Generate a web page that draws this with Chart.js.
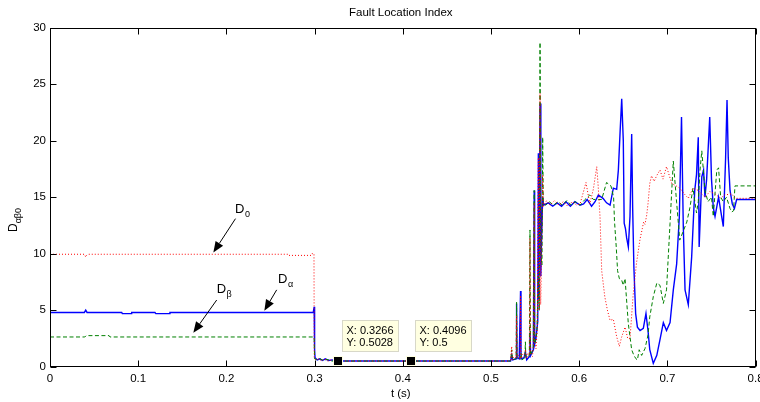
<!DOCTYPE html>
<html>
<head>
<meta charset="utf-8">
<script src="https://cdn.jsdelivr.net/npm/chart.js@4.4.0/dist/chart.umd.min.js"></script>
<style>
  html, body { margin: 0; padding: 0; background: #fff; }
  canvas { display: block; }
</style>
</head>
<body>
<canvas id="chart" width="760" height="402"></canvas>
<script>
// time (s) / index pairs for the three fault location indices
const d0Points = [
  [0, 9.95], [0.039, 9.95], [0.0405, 9.7], [0.0415, 9.85], [0.043, 9.95], [0.27, 9.95], [0.2705, 9.85],
  [0.2965, 9.85], [0.297, 10.0], [0.2993, 10.0], [0.2996, 0.8], [0.302, 0.6], [0.305, 0.7], [0.308, 0.5],
  [0.311, 0.7], [0.315, 0.5], [0.319, 0.6], [0.323, 0.5], [0.52, 0.5],
  [0.5222, 0.6], [0.5235, 1.8], [0.524, 0.6], [0.526, 0.9], [0.5285, 0.8], [0.529, 4.5], [0.5295, 0.8],
  [0.531, 1.0], [0.533, 0.7], [0.5335, 6.3], [0.534, 0.7], [0.536, 1.1], [0.538, 0.9], [0.539, 1.5],
  [0.5405, 0.7], [0.542, 1.2], [0.5435, 1.0], [0.5442, 11.4], [0.5448, 1.2], [0.547, 0.9], [0.548, 1.8],
  [0.549, 14.5], [0.5495, 2.2], [0.551, 1.6], [0.5525, 3.5], [0.5537, 18.5], [0.5545, 5.0], [0.5556, 24.2],
  [0.5563, 5.5], [0.5572, 9.0], [0.5586, 17.0], [0.5596, 14.2],
  [0.563, 14.7], [0.567, 14.3], [0.572, 14.7], [0.577, 14.3], [0.582, 14.6], [0.587, 14.2], [0.592, 14.6],
  [0.597, 14.3], [0.601, 14.4], [0.6077, 16.3], [0.612, 14.4], [0.616, 15.7], [0.6199, 17.7], [0.6215, 16.0],
  [0.6236, 13.3], [0.6255, 8.5], [0.629, 6.2], [0.632, 5.0], [0.635, 4.1], [0.6387, 4.2], [0.6425, 2.65],
  [0.6455, 1.8], [0.648, 2.6], [0.652, 3.5], [0.655, 2.5], [0.6576, 2.5], [0.661, 6.2], [0.665, 9.2],
  [0.669, 11.3], [0.6715, 12.2], [0.673, 12.8], [0.6746, 12.6], [0.6765, 13.4], [0.678, 14.4], [0.68, 16.2],
  [0.682, 16.9], [0.685, 16.4], [0.6878, 16.9], [0.6916, 17.4], [0.695, 16.6], [0.699, 17.7], [0.705, 16.2],
  [0.71, 16.0], [0.714, 15.8], [0.719, 15.3], [0.7237, 14.9], [0.729, 15.8], [0.735, 15.6], [0.7426, 15.0],
  [0.748, 15.5], [0.754, 15.3], [0.76, 14.9], [0.765, 15.2], [0.773, 15.3], [0.7766, 14.9], [0.8, 14.9]
];

const dAlphaPoints = [
  [0, 4.8], [0.039, 4.8], [0.0405, 5.0], [0.042, 4.8], [0.0813, 4.8], [0.082, 4.7], [0.092, 4.7],
  [0.0926, 4.8], [0.119, 4.8], [0.12, 4.7], [0.135, 4.7], [0.136, 4.8], [0.2985, 4.8], [0.2995, 5.3],
  [0.3, 1.5], [0.3005, 0.8], [0.303, 0.6], [0.306, 0.7], [0.309, 0.55], [0.312, 0.7], [0.316, 0.55],
  [0.32, 0.6], [0.324, 0.5], [0.52, 0.5],
  [0.5222, 0.5], [0.5235, 1.0], [0.5245, 0.6], [0.5285, 0.7], [0.529, 5.6], [0.5295, 0.8], [0.532, 0.7],
  [0.5335, 6.7], [0.534, 0.7], [0.5375, 0.8], [0.539, 1.3], [0.5405, 0.6], [0.5435, 0.9], [0.5442, 3.0],
  [0.545, 1.0], [0.548, 1.5], [0.549, 15.6], [0.5495, 2.0], [0.551, 2.5], [0.553, 4.0], [0.5537, 18.9],
  [0.5543, 6.0], [0.5556, 23.3], [0.5565, 8.0], [0.5575, 12.0], [0.5586, 15.0], [0.5596, 14.3],
  [0.565, 14.5], [0.57, 14.2], [0.575, 14.5], [0.58, 14.2], [0.585, 14.6], [0.59, 14.2], [0.595, 14.6],
  [0.601, 14.3], [0.605, 14.4], [0.609, 14.8], [0.614, 14.2], [0.618, 14.6], [0.6217, 15.2], [0.627, 14.9],
  [0.631, 14.5], [0.635, 14.3], [0.6387, 15.8], [0.6425, 15.7], [0.6444, 17.4], [0.6465, 21.0], [0.6482, 23.7],
  [0.65, 20.0], [0.651, 12.7], [0.6525, 12.2], [0.6538, 11.4], [0.6557, 10.6], [0.6576, 13.3], [0.6595, 20.6],
  [0.6606, 14.1], [0.662, 8.8], [0.664, 4.7], [0.666, 3.5], [0.669, 3.2], [0.6727, 3.4], [0.6757, 4.7],
  [0.678, 3.2], [0.68, 1.5], [0.684, 0.3], [0.688, 1.0], [0.6916, 2.4], [0.6954, 3.9], [0.699, 3.2],
  [0.703, 3.9], [0.7067, 6.8], [0.7105, 9.1], [0.7135, 13.2], [0.716, 22.1], [0.718, 12.5], [0.72, 6.8],
  [0.7237, 5.5], [0.7275, 9.7], [0.731, 15.6], [0.733, 17.0], [0.735, 20.3], [0.736, 10.6], [0.739, 16.8],
  [0.741, 17.4], [0.7426, 15.0], [0.7445, 16.6], [0.748, 22.1], [0.75, 16.6], [0.752, 14.1], [0.754, 13.3],
  [0.758, 15.0], [0.7615, 13.3], [0.7634, 12.4], [0.766, 18.5], [0.7676, 23.6], [0.769, 18.5], [0.771, 15.6],
  [0.7736, 14.4], [0.776, 14.0], [0.7785, 14.8], [0.8, 14.8]
];

const dBetaPoints = [
  [0, 2.63], [0.0395, 2.63], [0.041, 2.75], [0.067, 2.75], [0.068, 2.63], [0.2995, 2.63], [0.3, 0.7],
  [0.303, 0.6], [0.306, 0.7], [0.31, 0.55], [0.314, 0.65], [0.319, 0.5], [0.52, 0.5],
  [0.5222, 0.5], [0.5235, 1.5], [0.5245, 0.6], [0.5285, 0.7], [0.529, 5.7], [0.5295, 0.8], [0.533, 0.7],
  [0.534, 1.2], [0.535, 0.6], [0.5385, 0.8], [0.539, 2.2], [0.5395, 0.8], [0.5435, 1.0], [0.5442, 12.1],
  [0.5448, 1.0], [0.548, 1.6], [0.549, 15.6], [0.5495, 2.0], [0.552, 3.0], [0.5537, 8.0], [0.5548, 5.0],
  [0.5556, 28.7], [0.5565, 10.0], [0.5578, 9.0], [0.5586, 20.3], [0.5593, 14.5],
  [0.562, 14.3], [0.566, 14.6], [0.571, 14.3], [0.576, 14.6], [0.581, 14.3], [0.586, 14.7], [0.591, 14.3],
  [0.596, 14.6], [0.601, 14.3], [0.6066, 14.8], [0.612, 15.2], [0.616, 14.8], [0.6217, 14.8], [0.6255, 14.8],
  [0.631, 16.3], [0.636, 16.0], [0.639, 15.0], [0.64, 12.9], [0.642, 10.6], [0.6435, 8.5], [0.6455, 7.8],
  [0.648, 7.7], [0.65, 7.2], [0.652, 7.8], [0.654, 5.6], [0.6557, 3.8], [0.6576, 2.65], [0.6595, 1.5],
  [0.662, 1.0], [0.6644, 0.7], [0.666, 0.6], [0.668, 1.5], [0.6708, 1.0], [0.6746, 1.6], [0.678, 2.8],
  [0.68, 4.4], [0.684, 6.2], [0.688, 7.4], [0.6916, 7.2], [0.6954, 5.6], [0.699, 6.8], [0.703, 12.7],
  [0.7067, 18.2], [0.7105, 14.5], [0.714, 11.2], [0.718, 12.0], [0.722, 12.8], [0.7256, 14.1], [0.729, 15.8],
  [0.733, 13.6], [0.735, 14.6], [0.737, 17.4], [0.739, 19.1], [0.7426, 15.6], [0.746, 14.6], [0.75, 15.0],
  [0.752, 13.3], [0.756, 17.4], [0.758, 17.6], [0.7604, 15.0], [0.7634, 14.6], [0.767, 15.0], [0.771, 14.0],
  [0.773, 13.7], [0.775, 13.8], [0.7766, 16.0], [0.8, 16.0]
];

const xTicks = [0, 0.1, 0.2, 0.3, 0.4, 0.5, 0.6, 0.7, 0.8];
const xTickLabels = ['0', '0.1', '0.2', '0.3', '0.4', '0.5', '0.6', '0.7', '0.8'];
const yTicks = [0, 5, 10, 15, 20, 25, 30];

// data cursors: [t, value]
const dataTips = [[0.3266, 0.5028], [0.4096, 0.5]];

// arrow labels: subscript, label anchor (t, value), arrow tail, arrow tip
const arrowLabels = [
  { sub: '0', at: [0.2098, 13.6], from: [0.2103, 13.1], to: [0.1852, 10.1] },
  { sub: 'β', at: [0.189, 6.55], from: [0.189, 5.9], to: [0.1625, 3.0] },
  { sub: 'α', at: [0.2585, 7.4], from: [0.257, 6.8], to: [0.243, 4.95] }
];

const FONT = '"Liberation Sans", Arial, Helvetica, sans-serif';
Chart.defaults.font.family = FONT;

const toXY = pts => pts.map(p => ({ x: p[0], y: p[1] }));

// inward ticks on all four sides plus the closed box, like a MATLAB axes
const axesBox = {
  id: 'axesBox',
  afterDraw(chart) {
    const { ctx, chartArea: a, scales: { x, y } } = chart;
    const L = Math.round(a.left) + 0.5, R = Math.round(a.right) - 0.5;
    const T = Math.round(a.top) + 0.5, B = Math.round(a.bottom) - 0.5;
    ctx.save();
    ctx.strokeStyle = '#000';
    ctx.lineWidth = 1;
    ctx.strokeRect(L, T, R - L, B - T);
    ctx.beginPath();
    xTicks.forEach(v => {
      const px = Math.round(x.getPixelForValue(v)) + 0.5;
      ctx.moveTo(px, B); ctx.lineTo(px, B - 6);
      ctx.moveTo(px, T); ctx.lineTo(px, T + 6);
    });
    yTicks.forEach(v => {
      const py = Math.round(y.getPixelForValue(v)) + 0.5;
      ctx.moveTo(L, py); ctx.lineTo(L + 6, py);
      ctx.moveTo(R, py); ctx.lineTo(R - 6, py);
    });
    ctx.stroke();

    // title and axis labels
    ctx.fillStyle = '#000';
    ctx.font = '11.5px ' + FONT;
    ctx.textAlign = 'center';
    ctx.textBaseline = 'middle';
    ctx.fillText('Fault Location Index', (a.left + a.right) / 2 - 2, 13);
    ctx.fillText('t (s)', (a.left + a.right) / 2 - 2, 394);

    ctx.save();
    ctx.translate(17, 232);
    ctx.rotate(-Math.PI / 2);
    ctx.textAlign = 'left';
    ctx.textBaseline = 'alphabetic';
    ctx.font = '12px ' + FONT;
    ctx.fillText('D', 0, 0);
    const dw = ctx.measureText('D').width;
    ctx.font = '9px ' + FONT;
    ctx.fillText('αβ0', dw, 4);
    ctx.restore();

    // arrows with subscripted labels
    arrowLabels.forEach(lb => {
      const fx = x.getPixelForValue(lb.from[0]), fy = y.getPixelForValue(lb.from[1]);
      const tx = x.getPixelForValue(lb.to[0]), ty = y.getPixelForValue(lb.to[1]);
      const ang = Math.atan2(ty - fy, tx - fx);
      const hl = 11, hw = 4.5;
      const bx = tx - hl * Math.cos(ang), by = ty - hl * Math.sin(ang);
      ctx.beginPath();
      ctx.moveTo(fx, fy); ctx.lineTo(bx, by);
      ctx.stroke();
      ctx.beginPath();
      ctx.moveTo(tx, ty);
      ctx.lineTo(bx + hw * Math.sin(ang), by - hw * Math.cos(ang));
      ctx.lineTo(bx - hw * Math.sin(ang), by + hw * Math.cos(ang));
      ctx.closePath();
      ctx.fill();

      const lx = x.getPixelForValue(lb.at[0]), ly = y.getPixelForValue(lb.at[1]);
      ctx.textAlign = 'left';
      ctx.textBaseline = 'alphabetic';
      ctx.font = '13px ' + FONT;
      ctx.fillText('D', lx, ly);
      const w = ctx.measureText('D').width;
      ctx.font = '9px ' + FONT;
      ctx.fillText(lb.sub, lx + w + 0.5, ly + 4);
    });

    // data cursor markers and their readouts
    dataTips.forEach(([tv, dv]) => {
      const mx = x.getPixelForValue(tv), my = y.getPixelForValue(dv);
      ctx.fillStyle = '#ffffe1';
      ctx.fillRect(Math.round(mx) - 5, Math.round(my) - 5, 10, 10);
      ctx.fillStyle = '#000';
      ctx.fillRect(Math.round(mx) - 4, Math.round(my) - 4, 8, 8);

      const lines = ['X: ' + tv, 'Y: ' + dv];
      ctx.font = '11px ' + FONT;
      const bw = Math.ceil(Math.max(...lines.map(s => ctx.measureText(s).width))) + 9;
      const bh = 32;
      const bl = Math.round(mx) + 4, bb = Math.round(my) - 9;
      ctx.fillStyle = '#ffffe1';
      ctx.fillRect(bl, bb - bh, bw, bh);
      ctx.strokeStyle = '#d8d8c8';
      ctx.strokeRect(bl + 0.5, bb - bh + 0.5, bw - 1, bh - 1);
      ctx.fillStyle = '#000';
      ctx.textAlign = 'left';
      ctx.textBaseline = 'middle';
      ctx.fillText(lines[0], bl + 4.5, bb - bh + 11);
      ctx.fillText(lines[1], bl + 4.5, bb - bh + 23);
    });
    ctx.restore();
  }
};

const ctx = document.getElementById('chart');
const chart = new Chart(ctx, {
  type: 'line',
  data: {
    datasets: [
      { label: 'D0', data: toXY(d0Points), borderColor: '#ff0000', borderWidth: 1, borderDash: [1, 2] },
      { label: 'Dβ', data: toXY(dBetaPoints), borderColor: '#008000', borderWidth: 1, borderDash: [4, 2.5] },
      { label: 'Dα', data: toXY(dAlphaPoints), borderColor: '#0000ff', borderWidth: 1.4 }
    ]
  },
  options: {
    responsive: false,
    animation: false,
    elements: {
      point: { radius: 0, hoverRadius: 0 },
      line: { tension: 0, fill: false }
    },
    layout: { padding: { left: 0, right: 4.4, top: 27.7, bottom: 0 } },
    plugins: {
      legend: { display: false },
      tooltip: { enabled: false },
      title: { display: false }
    },
    scales: {
      x: {
        type: 'linear',
        min: 0,
        max: 0.8,
        grid: { display: false, drawTicks: false },
        border: { display: false },
        afterBuildTicks: s => { s.ticks = xTicks.map(v => ({ value: v })); },
        afterFit: s => { s.height = 35.3; s.paddingLeft = 0; s.paddingRight = 0; },
        ticks: {
          callback: (v, i) => xTickLabels[i],
          color: '#000',
          font: { size: 11.5 },
          padding: 5,
          maxRotation: 0,
          autoSkip: false
        }
      },
      y: {
        type: 'linear',
        min: 0,
        max: 30,
        grid: { display: false, drawTicks: false },
        border: { display: false },
        afterBuildTicks: s => { s.ticks = yTicks.map(v => ({ value: v })); },
        afterFit: s => { s.width = 50; s.paddingTop = 0; s.paddingBottom = 0; },
        ticks: {
          color: '#000',
          font: { size: 11.5 },
          padding: 4,
          autoSkip: false
        }
      }
    }
  },
  plugins: [axesBox]
});
</script>
</body>
</html>
